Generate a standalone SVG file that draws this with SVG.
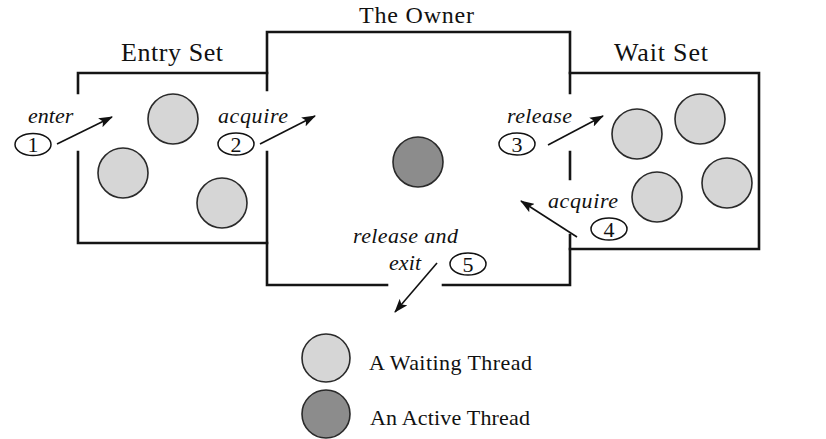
<svg xmlns="http://www.w3.org/2000/svg" width="826" height="439" viewBox="0 0 826 439">
<style>
.wall{fill:none;stroke:#151515;stroke-width:2.6;stroke-linecap:square}
.wait{fill:#d6d6d6;stroke:#2a2a2a;stroke-width:1.6}
.active{fill:#8c8c8c;stroke:#2a2a2a;stroke-width:1.6}
.title{font-family:"Liberation Serif","Times New Roman",serif;font-size:26px;fill:#111}
.lab{font-family:"Liberation Serif","Times New Roman",serif;font-style:italic;font-size:22px;fill:#111}
.leg{font-family:"Liberation Serif","Times New Roman",serif;font-size:22px;fill:#111}
.num{fill:#fff;stroke:#111;stroke-width:1.5}
.numt{font-family:"Liberation Serif","Times New Roman",serif;font-size:22px;fill:#111;text-anchor:middle}
.arr{fill:none;stroke:#111;stroke-width:1.6;marker-end:url(#ah)}
</style>
<defs>
<marker id="ah" viewBox="0 0 14 10" refX="13" refY="5" markerWidth="14" markerHeight="10" markerUnits="userSpaceOnUse" orient="auto">
<path d="M0,0 L14,5 L0,10 L3,5 Z" fill="#111"/>
</marker>
</defs>
<rect width="826" height="439" fill="#fff"/>

<g id="entry-set">
<path class="wall" d="M78,93 V73 H267 M78,152 V243 H267"/>
<text class="title" x="121" y="61" textLength="102">Entry Set</text>
<circle class="wait" cx="173" cy="119" r="25"/>
<circle class="wait" cx="123" cy="173" r="25"/>
<circle class="wait" cx="222" cy="203" r="25"/>
</g>

<g id="owner">
<path class="wall" d="M267,90 V32 H570 V93 M267,152 V285 H387 M443,285 H570 V235 M570,152 V179"/>
<text class="title" x="359" y="22.5" style="font-size:24px" textLength="115">The Owner</text>
<circle class="active" cx="418" cy="162" r="25"/>
</g>

<g id="wait-set">
<path class="wall" d="M570,73 H759 V249 H570"/>
<text class="title" x="614" y="61" textLength="94">Wait Set</text>
<circle class="wait" cx="637" cy="134" r="25"/>
<circle class="wait" cx="700" cy="119" r="25"/>
<circle class="wait" cx="657" cy="197" r="25"/>
<circle class="wait" cx="727" cy="183" r="25"/>
</g>

<g id="connectors">
<path class="arr" d="M57,144 L112,117"/>
<path class="arr" d="M260,144 L315,116"/>
<path class="arr" d="M548,145 L603,116"/>
<path class="arr" d="M577,237 L521,201"/>
<path class="arr" d="M437,263 L395,312"/>
</g>

<g id="step-1">
<text class="lab" x="28" y="123">enter</text>
<ellipse class="num" cx="33" cy="144.5" rx="18" ry="11"/>
<text class="numt" x="33" y="152">1</text>
</g>
<g id="step-2">
<text class="lab" x="218" y="123" textLength="70">acquire</text>
<ellipse class="num" cx="236" cy="144" rx="18" ry="11"/>
<text class="numt" x="236" y="151.5">2</text>
</g>
<g id="step-3">
<text class="lab" x="507" y="123" textLength="65">release</text>
<ellipse class="num" cx="517" cy="144" rx="18" ry="11"/>
<text class="numt" x="517" y="151.5">3</text>
</g>
<g id="step-4">
<text class="lab" x="548" y="208" textLength="70">acquire</text>
<ellipse class="num" cx="609" cy="229" rx="18" ry="11"/>
<text class="numt" x="609" y="236.5">4</text>
</g>
<g id="step-5">
<text class="lab" x="353" y="243" textLength="105">release and</text>
<text class="lab" x="389" y="270" textLength="32">exit</text>
<ellipse class="num" cx="468" cy="264" rx="18" ry="11"/>
<text class="numt" x="468" y="271.5">5</text>
</g>

<g id="legend-waiting">
<circle class="wait" cx="326" cy="358" r="24"/>
<text class="leg" x="369" y="370" textLength="163">A Waiting Thread</text>
</g>
<g id="legend-active">
<circle class="active" cx="326" cy="414" r="24"/>
<text class="leg" x="370" y="425" textLength="160">An Active Thread</text>
</g>
</svg>
